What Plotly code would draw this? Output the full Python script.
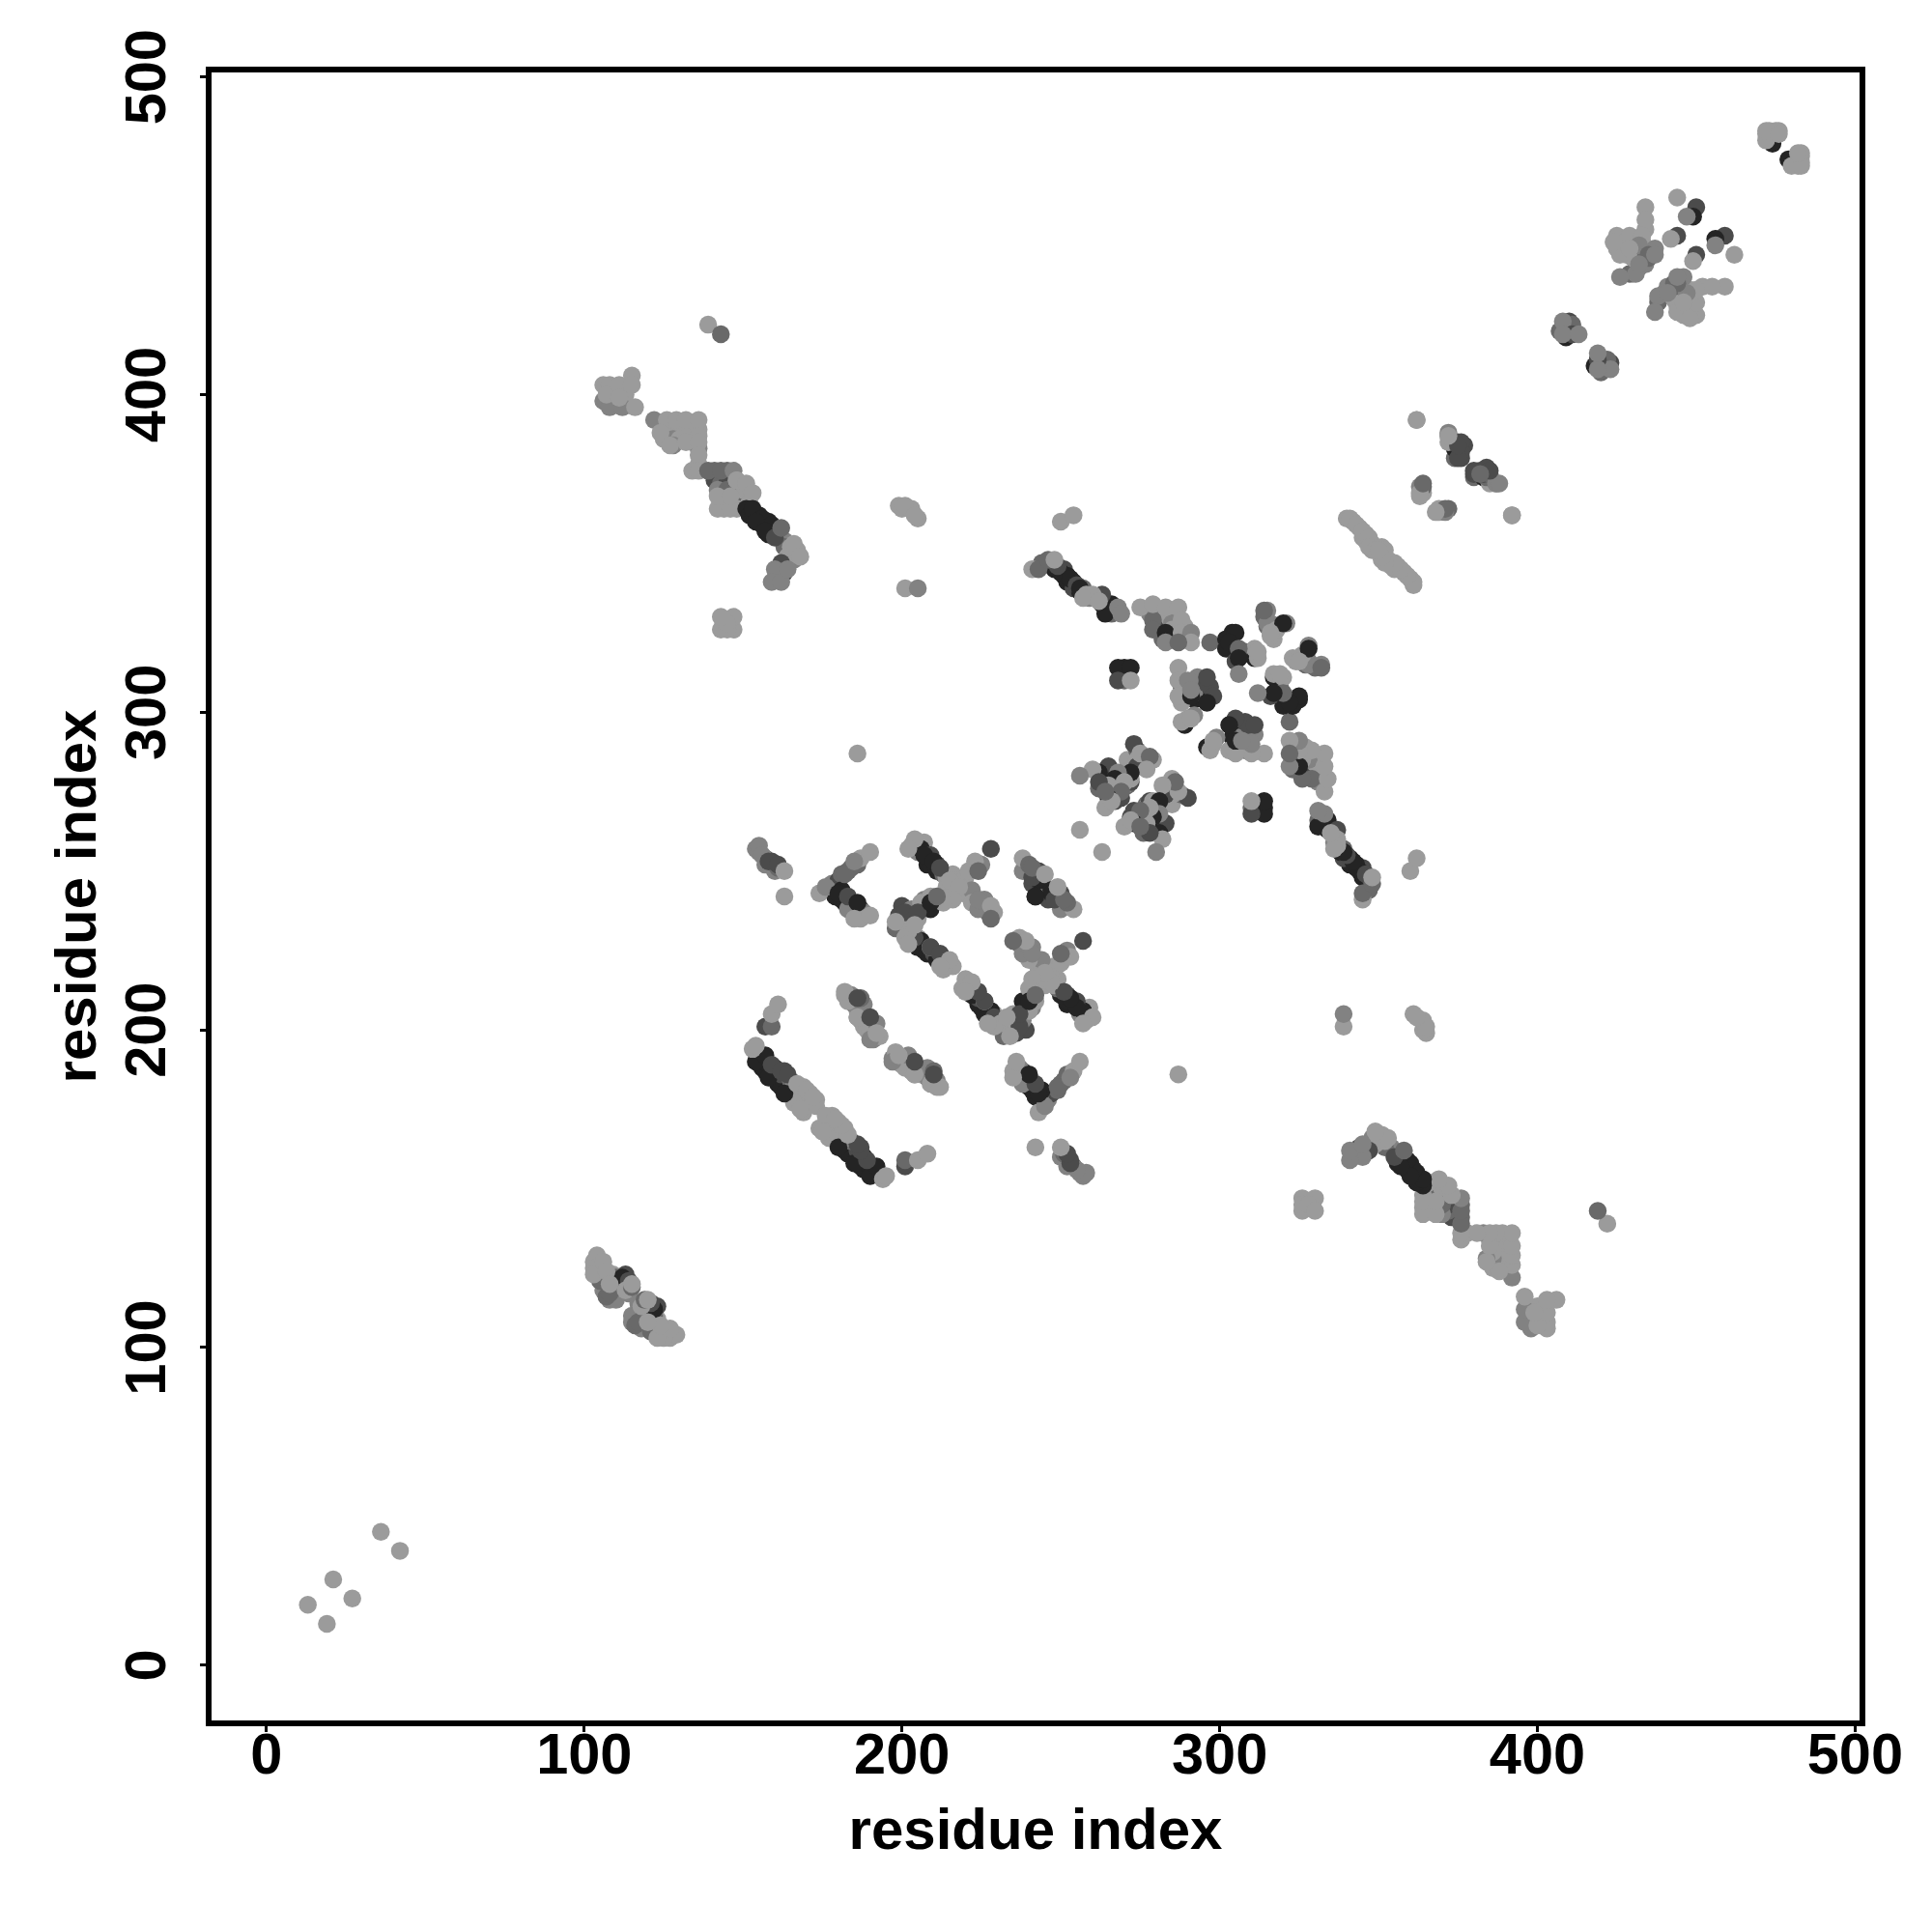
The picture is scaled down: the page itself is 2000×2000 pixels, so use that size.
import plotly.graph_objects as go

L, A, M, D, V = 155, 130, 105, 75, 36

# contacts above the diagonal: residue i, residue j, grey level
res_i = [13, 21, 36,
  105, 106, 107, 109, 111, 111, 113, 114, 109, 112, 106, 108, 110, 107, 113, 104, 103,
  110, 105, 108, 110, 112, 114, 104, 105, 103, 103, 106, 107, 108, 113, 115, 115,
  106, 110, 113, 110, 113, 106,
  115, 108, 112, 116, 108, 107, 111, 115, 111,
  124, 128, 130, 125, 128, 134, 130, 134, 128, 136, 136, 136, 134,
  122, 126, 129, 132, 136, 124, 136, 127, 132, 136, 136, 136,
  141, 145, 141, 143, 145, 142, 144, 148, 150, 150, 152, 144, 148,
  139, 143, 147, 145, 148, 142, 146, 142, 146, 148, 151, 153,
  151, 152, 153, 155, 155, 156, 158, 159, 158, 160, 161, 162, 163, 163, 165, 166, 164, 162, 163, 161, 160, 167,
  153, 156, 159, 154, 157, 160, 162, 160, 159, 162, 164, 165, 166, 168,
  139, 143, 143, 147, 147, 145, 145,
  199, 203, 205, 201, 205, 250, 254, 200, 201, 204,
  244, 247, 248, 251, 251, 252, 254, 254, 256, 257, 259, 261, 263, 266, 267, 266,
  252, 250, 249, 253, 255, 256, 265, 264, 263, 241, 243, 246, 248, 258, 260, 257, 262, 268, 269,
  281, 282, 281, 284, 285, 285, 285, 289, 289, 282, 278,
  279, 279, 283, 283, 275, 279, 283, 287, 288, 288, 291, 291, 287, 297,
  270, 270, 270, 271,
  268, 272, 268, 272, 292, 294, 294, 292, 296, 295, 289, 292, 290, 288, 292, 293, 297, 296, 288,
  287, 287, 290, 296, 287, 291, 298, 296, 291, 288, 291,
  304, 302, 304, 302, 307, 305, 308, 311, 312, 311,
  314, 316, 318, 315, 317, 321, 315, 315, 316, 318,
  305, 303, 306, 306, 312, 306, 314, 320, 316,
  264, 266, 268, 263, 262, 266, 267, 267, 271, 270, 272, 269, 271, 274, 276, 279, 272, 277, 274,
  273, 274, 275, 278, 277, 272, 265, 262, 260, 256, 268, 267, 265, 270, 269, 265, 264, 266, 262, 264, 256,
  154, 155, 157, 157, 159, 160, 161,
  155, 156, 158, 161, 163, 163,
  178, 180, 181, 183, 184, 186, 187, 177, 179, 181, 182, 184, 185, 187, 188, 183, 187, 181,
  174, 176, 180, 183, 186, 182, 185, 185, 190, 190,
  203, 205, 205, 207, 206, 208, 209, 208, 209, 211, 211, 213, 214, 214, 216, 217, 216, 219, 220, 220, 221, 222, 226, 222, 227, 224, 225, 226, 229,
  207, 210, 212, 204, 202, 215, 218, 216, 223, 224, 224, 228, 228, 228,
  239, 240, 238, 241, 244, 243,
  241, 243, 238, 240, 242, 241, 245,
  200, 201, 199, 203, 200, 198, 203, 205, 205, 207, 209, 209, 206, 212, 213, 205, 206, 207, 208, 204, 210, 211, 213, 214, 216, 213, 202, 201,
  201, 205, 209, 209, 211, 198, 204, 202, 209, 212, 215, 212,
  155, 155, 156, 156, 157, 158, 159, 160, 160, 161, 162, 162, 163, 164, 165, 165, 166, 168, 169, 167, 169, 171, 170, 166, 172, 173, 169, 154, 173,
  154, 158, 163, 157, 159, 162, 164, 153, 154, 167, 170, 172, 168,
  157, 159, 159, 161,
  182, 184, 184, 185, 187, 186, 188, 187, 188, 189, 191, 191, 190, 193, 190, 192, 186, 186, 188, 187, 183,
  182, 186, 186, 190, 190, 192,
  186, 143, 342, 344, 346, 345, 346, 348, 348, 351,
  340, 341, 343, 345, 347, 347, 349, 351,
  374, 375, 375, 377, 376, 382, 380, 383, 385, 385, 363, 364, 372,
  362, 372, 376, 375, 380, 384, 387, 392, 364, 363, 369, 372,
  409, 410, 409, 410, 407,
  411, 408, 411, 408, 413,
  426, 428, 430, 427, 431, 433, 433, 431, 434, 435, 430, 429, 432, 437, 431, 430, 428, 434, 425, 426, 433, 434,
  434, 434, 444, 450, 449, 447, 444, 442,
  425, 424, 429, 433, 432, 429, 435, 437, 431, 432, 426,
  473, 474, 473,
  474, 472, 472, 475, 476, 472, 476]
res_j = [19, 27, 42,
  124, 122, 120, 119, 120, 118, 120, 117, 123, 119, 118, 115, 115, 116, 123, 127, 127,
  119, 121, 117, 122, 122, 121, 129, 126, 125, 123, 127, 124, 120, 118, 119, 120,
  398, 397, 397, 401, 400, 403,
  406, 396, 396, 396, 403, 400, 403, 403, 399,
  391, 390, 389, 386, 386, 389, 386, 385, 384, 389, 383, 378, 376,
  392, 392, 392, 392, 392, 388, 387, 384, 385, 385, 381, 376,
  376, 376, 373, 372, 372, 370, 366, 368, 366, 370, 366, 364, 364,
  376, 376, 376, 370, 373, 364, 364, 368, 368, 373, 372, 369,
  364, 362, 363, 361, 362, 359, 360, 358, 356, 357, 355, 355, 354, 352, 350, 348, 349, 347, 344, 343, 342, 351,
  364, 361, 359, 360, 357, 355, 358, 345, 341, 341, 345, 352, 353, 349,
  422, 419, 326, 326, 330, 326, 328,
  365, 364, 361, 339, 339, 360, 362, 364, 365, 362,
  347, 347, 345, 343, 345, 341, 341, 339, 338, 339, 336, 336, 334, 334, 332, 331,
  343, 344, 346, 342, 340, 339, 333, 331, 337, 345, 345, 348, 348, 337, 337, 336, 335, 333, 331,
  331, 328, 326, 330, 328, 326, 323, 327, 323, 323, 331,
  329, 326, 325, 322, 333, 334, 333, 333, 329, 325, 325, 322, 322, 322,
  312, 314, 310, 311,
  314, 314, 310, 310, 309, 310, 306, 304, 307, 304, 296, 299, 298, 303, 306, 311, 308, 309, 308,
  314, 310, 310, 311, 305, 305, 305, 303, 307, 297, 298,
  325, 323, 320, 320, 318, 316, 319, 317, 317, 320,
  330, 328, 327, 327, 323, 328, 328, 332, 324, 326,
  325, 322, 320, 317, 319, 312, 332, 328, 325,
  281, 279, 278, 279, 276, 276, 272, 275, 277, 277, 278, 273, 285, 288, 284, 285, 279, 283, 285,
  290, 283, 287, 286, 282, 281, 283, 281, 282, 280, 281, 279, 277, 278, 275, 273, 270, 272, 278, 275, 263,
  257, 256, 254, 252, 253, 250, 251,
  258, 255, 253, 252, 250, 242,
  246, 247, 249, 250, 251, 252, 254, 244, 242, 241, 240, 240, 239, 238, 237, 238, 235, 244,
  243, 245, 243, 242, 240, 249, 253, 235, 236, 256,
  258, 258, 256, 259, 257, 254, 255, 252, 252, 252, 250, 249, 248, 245, 249, 247, 243, 243, 245, 248, 250, 244, 241, 240, 237, 238, 252, 240, 237,
  255, 253, 251, 260, 257, 247, 245, 241, 253, 250, 241, 239, 235, 257,
  251, 250, 250, 246, 247, 247,
  248, 250, 254, 252, 242, 251, 249,
  239, 235, 236, 238, 232, 232, 231, 229, 235, 241, 238, 242, 240, 241, 240, 226, 228, 225, 224, 229, 224, 222, 222, 221, 220, 219, 231, 229,
  237, 237, 240, 226, 242, 234, 233, 227, 226, 224, 222, 220,
  192, 190, 191, 188, 187, 189, 186, 188, 185, 183, 182, 186, 187, 181, 184, 180, 183, 181, 182, 180, 178, 180, 176, 177, 177, 178, 174, 193, 176,
  190, 185, 180, 192, 189, 187, 186, 194, 195, 183, 181, 179, 175,
  201, 201, 205, 208,
  211, 211, 209, 208, 207, 206, 204, 203, 201, 200, 200, 197, 198, 198, 200, 202, 204, 207, 208, 210, 209,
  212, 210, 204, 204, 197, 199,
  287, 330, 360, 358, 356, 355, 354, 353, 351, 352,
  361, 361, 359, 357, 355, 352, 351, 350,
  384, 383, 385, 384, 380, 376, 374, 374, 374, 372, 371, 369, 387,
  392, 388, 385, 382, 375, 375, 372, 362, 371, 368, 363, 364,
  421, 423, 418, 419, 420,
  422, 423, 419, 419, 419,
  448, 448, 448, 446, 445, 446, 448, 442, 441, 443, 438, 438, 440, 446, 449, 443, 444, 452, 446, 444, 444, 443,
  459, 455, 462, 459, 456, 456, 450, 449,
  450, 448, 450, 450, 447, 446, 444, 444, 438, 441, 437,
  481, 481, 483,
  479, 482, 480, 483, 483, 483, 482]
shade = [L, L, L,
  L, M, A, D, D, A, V, A, L, A, A, A, A, M, D, L, L,
  D, M, M, M, V, D, L, L, L, L, L, L, L, L, M, L,
  A, A, L, L, L, L,
  L, A, A, L, L, L, L, L, L,
  A, L, L, L, A, L, L, L, A, L, A, L, L,
  A, L, L, L, L, L, L, L, L, L, L, L,
  M, M, D, M, D, A, L, D, M, L, L, L, L,
  M, M, A, M, L, L, L, L, L, L, L, L,
  V, V, V, V, V, V, V, D, V, D, M, M, A, M, A, A, L, D, D, M, A, L,
  V, V, V, V, V, D, M, A, A, A, A, L, L, L,
  L, M, L, L, L, L, L,
  L, L, L, L, A, L, L, L, L, L,
  M, D, V, V, D, V, V, D, V, M, A, L, V, V, D, M,
  V, V, D, V, D, V, V, V, D, L, M, M, L, L, L, L, L, A, A,
  L, D, D, L, A, L, M, L, A, M, A,
  M, M, V, A, L, L, L, L, L, L, A, L, M, M,
  V, V, M, V,
  V, V, D, L, A, A, A, V, D, V, V, A, L, L, A, A, D, D, M,
  L, L, A, D, L, V, D, V, A, L, L,
  V, V, V, V, V, D, M, V, L, L,
  M, A, A, M, L, A, A, A, L, L,
  V, V, M, V, L, A, M, V, L,
  V, M, M, D, M, D, D, L, M, L, D, D, L, M, D, L, L, L, L,
  D, D, L, M, L, V, D, V, L, A, A, V, L, L, M, V, L, L, D, M, L,
  A, A, M, A, D, A, M,
  A, A, D, D, L, L,
  A, D, M, M, M, M, L, A, V, V, V, D, V, D, A, A, L, V,
  L, A, V, D, V, M, A, L, L, L,
  L, L, A, L, V, V, D, V, V, D, V, M, L, L, L, L, L, L, L, L, L, A, A, L, M, A, A, A, L,
  V, V, D, L, L, L, L, L, L, M, A, L, M, D,
  L, A, A, D, V, V,
  D, D, L, M, V, M, L,
  D, D, D, A, L, M, L, L, L, A, V, L, L, L, L, V, V, V, V, D, D, V, V, A, L, L, L, L,
  D, D, V, L, M, L, L, L, D, D, L, L,
  V, V, M, V, V, V, V, V, D, V, V, D, D, V, M, D, A, L, L, L, L, L, L, L, L, L, L, A, L,
  V, V, V, V, D, D, D, L, L, L, L, L, L,
  D, M, L, L,
  L, A, D, D, A, L, A, L, L, L, L, A, L, L, L, A, L, A, A, M, L,
  L, D, L, D, A, L,
  L, L, L, L, L, L, L, L, L, L,
  L, L, L, L, L, L, L, L,
  M, D, M, D, D, D, M, V, D, L, A, L, A,
  L, A, D, M, D, D, L, L, M, L, L, M,
  A, D, V, V, M,
  M, A, D, A, A,
  L, L, L, L, L, L, L, A, A, M, L, M, A, A, L, L, L, L, L, L, L, M,
  L, L, L, D, V, A, D, L,
  L, L, L, L, A, L, M, A, A, A, A,
  A, L, L,
  V, L, L, L, L, L, L]
tick_values = [0, 100, 200, 300, 400, 500]
axis_title = "residue index"

assert len(res_i) == len(res_j) == len(shade), (len(res_i), len(res_j), len(shade))

xs = res_i + res_j
ys = res_j + res_i
greys = [f"rgb({v},{v},{v})" for v in shade + shade]

fig = go.Figure(go.Scatter(x=xs, y=ys, mode="markers",
                           marker=dict(size=18.5, color=greys, line=dict(width=0)),
                           showlegend=False))

tick_font = dict(family="Liberation Sans", size=59.5, color="black", weight="bold")
title_font = dict(family="Liberation Sans", size=60, color="black", weight="bold")
axis_common = dict(tickvals=tick_values, ticktext=[str(t) for t in tick_values],
                   showgrid=False, zeroline=False, showline=True, mirror=True,
                   linecolor="black", linewidth=5.5, ticks="outside", ticklen=6,
                   tickwidth=3, tickcolor="black", tickfont=tick_font)
fig.update_xaxes(range=[-17.3, 501.4], ticklabelstandoff=-28,
                 title=dict(text=axis_title, font=title_font, standoff=26), **axis_common)
fig.update_yaxes(range=[-17.4, 501.4], tickangle=-90, ticklabelstandoff=12, ticklabelshift=9,
                 title=dict(text=axis_title, font=title_font, standoff=0), **axis_common)
fig.update_layout(width=1984, height=1984, autosize=False, plot_bgcolor="white", paper_bgcolor="white",
                  margin=dict(l=211, r=67, t=66.7, b=211, autoexpand=False))
fig.write_html("out.html")
